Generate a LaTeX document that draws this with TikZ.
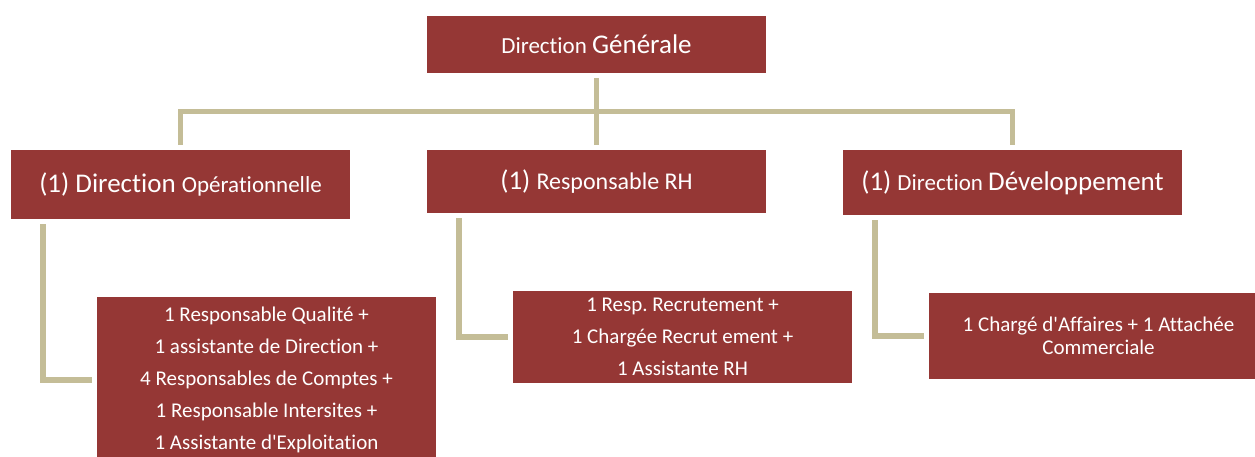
\documentclass[tikz,border=0pt]{standalone}
\usepackage{fontspec}
\setmainfont{Carlito}[Ligatures={TeX,NoCommon}]
\usepackage{tikz}
\newcommand{\fbig}{\fontsize{27}{32}\selectfont}
\newcommand{\fsmall}{\fontsize{23}{28}\selectfont}
\newcommand{\fbody}{\fontsize{21}{32}\selectfont}
\frenchspacing

\begin{document}
\begin{tikzpicture}[x=1pt,y=-1pt,
  box/.style={fill=brd, text=white, inner sep=0pt, outer sep=0pt,
    minimum width=339, align=center},
  link/.style={draw=tan, line width=5.5pt, line join=miter,
    shorten <=5pt, shorten >=5pt}]
\definecolor{brd}{RGB}{149,55,53}
\definecolor{tan}{RGB}{196,189,151}
\useasboundingbox (0,0) rectangle (1255,457);
\clip (0,0) rectangle (1255,457);
%% --- top ---
\node[box, minimum height=57] (dg) at (596.5,44.5)
  {\fsmall Direction \fbig Générale};
%% --- second row ---
\node[box, minimum height=69] (dop) at (180.5,184.5)
  {\fbig (1) Direction \fsmall Opérationnelle};
\node[box, minimum height=63] (rh) at (596.5,181.5)
  {\fbig (1) \fontsize{24}{28}\selectfont Responsable RH};
\node[box, minimum height=65] (ddev) at (1012.5,182.5)
  {\fbig (1) \fsmall Direction \fbig Développement};
%% --- third row ---
\node[box, minimum height=166, font=\fbody] (ops) at (266.5,380)
  {1 Responsable Qualité +\\1 assistante de Direction +\\4 Responsables de Comptes +\\1 Responsable Intersites +\\1 Assistante d\textquotesingle Exploitation};
\node[box, minimum height=92, font=\fbody] (rec) at (682.5,337)
  {1 Resp. Recrutement +\\1 Chargée Recrut ement +\\1 Assistante RH};
\node[box, minimum height=86, font=\fontsize{21}{23}\selectfont] (com) at (1098.5,336)
  {1 Chargé d\textquotesingle Affaires + 1 Attachée\\Commerciale};
%% --- connectors ---
\draw[link] (dg) -- (rh);
\draw[link] (dop) |- (dg |- 0,111.5) -| (ddev);
\draw[link] ([xshift=32pt]dop.south west) |- (ops);
\draw[link] ([xshift=32pt]rh.south west) |- (rec);
\draw[link] ([xshift=32pt]ddev.south west) |- (com);
\end{tikzpicture}
\end{document}
